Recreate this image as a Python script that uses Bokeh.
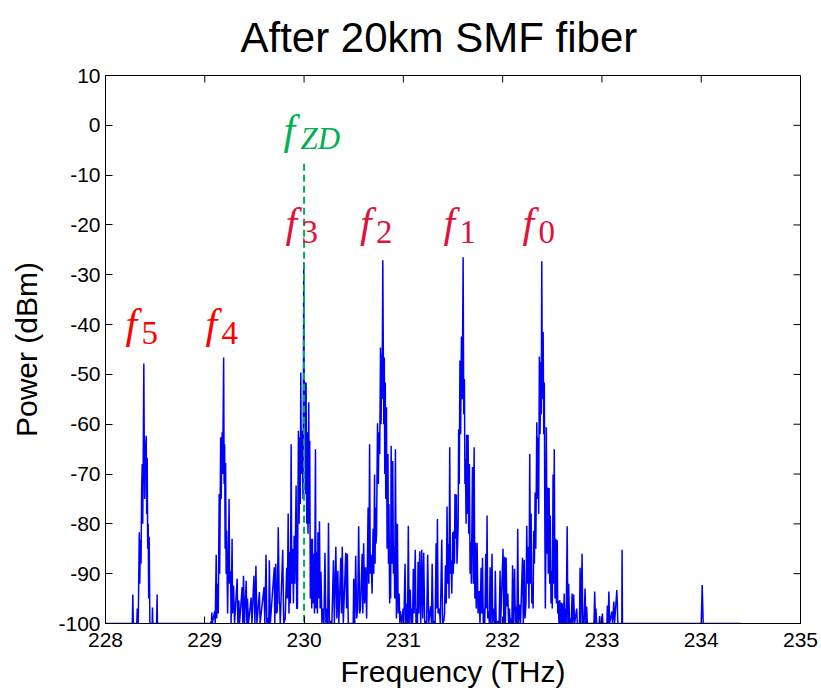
from bokeh.plotting import figure
from bokeh.models import Range1d, FixedTicker, ColumnDataSource
from bokeh.embed import file_html
from bokeh.resources import INLINE
from bokeh.core.properties import value

# ---------------- data ----------------
freq = [
    228.0, 228.27, 228.275, 228.28, 228.315, 228.32, 228.33, 228.34, 228.345, 228.352,
    228.358, 228.364, 228.37, 228.375, 228.38, 228.386, 228.39, 228.395, 228.40, 228.41,
    228.415, 228.42, 228.425, 228.43, 228.435, 228.44, 228.447, 228.47, 228.473, 228.476,
    228.515, 228.52, 228.523,
    229.0, 229.06, 229.064, 229.068, 229.07, 229.075, 229.10, 229.105, 229.115, 229.12,
    229.13, 229.136, 229.145, 229.15, 229.16, 229.165, 229.175, 229.18, 229.19, 229.195,
    229.20, 229.205, 229.21, 229.215, 229.22, 229.23, 229.245, 229.25, 229.26, 229.265,
    229.275, 229.28, 229.29, 229.30, 229.326, 229.333, 229.343, 229.35, 229.376, 229.383,
    229.39, 229.40, 229.417, 229.424, 229.43, 229.44, 229.467, 229.475, 229.495, 229.505,
    229.515, 229.525, 229.55, 229.557, 229.597, 229.605, 229.617, 229.625, 229.64, 229.645,
    229.65, 229.66, 229.70, 229.705, 229.715, 229.722, 229.73, 229.74, 229.75, 229.755,
    229.76, 229.785, 229.795, 229.81, 229.825, 229.832, 229.84, 229.848, 229.856, 229.862,
    229.87, 229.876, 229.886, 229.893, 229.90, 229.907, 229.92, 229.926, 229.933, 229.943,
    229.95, 229.956, 229.962, 229.967, 229.972, 229.98, 229.99, 229.997, 230.003, 230.008,
    230.014, 230.02, 230.027, 230.033, 230.04, 230.047, 230.052, 230.057, 230.063, 230.07,
    230.077, 230.084, 230.09, 230.098, 230.105, 230.115, 230.12, 230.128, 230.134, 230.14,
    230.147, 230.155, 230.162, 230.17, 230.18, 230.19, 230.20, 230.21, 230.22, 230.23,
    230.238, 230.246, 230.255, 230.266, 230.28, 230.296, 230.305, 230.32, 230.33, 230.34,
    230.35, 230.37, 230.377, 230.385, 230.395, 230.42, 230.428, 230.436, 230.445, 230.495,
    230.50, 230.51, 230.52, 230.53, 230.54, 230.55, 230.56, 230.568, 230.585, 230.592,
    230.60, 230.61, 230.62, 230.63, 230.645, 230.652, 230.66, 230.667, 230.675, 230.685,
    230.695, 230.702, 230.71, 230.715, 230.72, 230.725, 230.73, 230.735, 230.74, 230.748,
    230.755, 230.762, 230.77, 230.776, 230.78, 230.786, 230.793, 230.798, 230.803, 230.808,
    230.813, 230.818, 230.823, 230.83, 230.836, 230.845, 230.85, 230.855, 230.862, 230.868,
    230.872, 230.877, 230.885, 230.893, 230.90, 230.907, 230.913, 230.92, 230.93, 230.94,
    230.948, 230.957, 230.965, 230.97, 230.985, 230.997, 231.005, 231.017, 231.025, 231.034,
    231.042, 231.05, 231.058, 231.07, 231.078, 231.085, 231.093, 231.10, 231.108, 231.12,
    231.127, 231.135, 231.142, 231.148, 231.156, 231.165, 231.175, 231.185, 231.195, 231.205,
    231.215, 231.225, 231.235, 231.245, 231.255, 231.275, 231.283, 231.29, 231.30, 231.31,
    231.32, 231.33, 231.337, 231.343, 231.35, 231.363, 231.372, 231.387, 231.395, 231.407,
    231.415, 231.424, 231.432, 231.44, 231.447, 231.454, 231.46, 231.467, 231.474, 231.48,
    231.488, 231.497, 231.503, 231.51, 231.515, 231.52, 231.527, 231.534, 231.54, 231.547,
    231.552, 231.557, 231.563, 231.57, 231.577, 231.585, 231.593, 231.602, 231.608, 231.615,
    231.62, 231.625, 231.632, 231.638, 231.645, 231.652, 231.658, 231.665, 231.672, 231.678,
    231.685, 231.696, 231.705, 231.713, 231.72, 231.726, 231.734, 231.743, 231.752, 231.763,
    231.772, 231.783, 231.79, 231.797, 231.805, 231.813, 231.82, 231.83, 231.837, 231.843,
    231.85, 231.86, 231.866, 231.874, 231.882, 231.893, 231.90, 231.913, 231.92, 231.926,
    231.935, 231.957, 231.965, 231.974, 231.98, 232.004, 232.012, 232.02, 232.028, 232.035,
    232.042, 232.052, 232.06, 232.068, 232.076, 232.086, 232.093, 232.10, 232.108, 232.12,
    232.128, 232.136, 232.144, 232.152, 232.16, 232.17, 232.18, 232.20, 232.208, 232.217,
    232.225, 232.235, 232.243, 232.25, 232.257, 232.265, 232.273, 232.28, 232.287, 232.294,
    232.30, 232.307, 232.313, 232.32, 232.327, 232.334, 232.344, 232.35, 232.357, 232.363,
    232.37, 232.377, 232.384, 232.389, 232.394, 232.40, 232.408, 232.414, 232.42, 232.425,
    232.43, 232.435, 232.44, 232.447, 232.454, 232.46, 232.468, 232.474, 232.48, 232.487,
    232.494, 232.50, 232.508, 232.514, 232.52, 232.527, 232.535, 232.542, 232.55, 232.555,
    232.56, 232.567, 232.575, 232.582, 232.59, 232.597, 232.605, 232.612, 232.62, 232.625,
    232.63, 232.64, 232.65, 232.657, 232.665, 232.673, 232.683, 232.69, 232.70, 232.707,
    232.715, 232.725, 232.746, 232.752, 232.774, 232.78, 232.788, 232.80, 232.807, 232.813,
    232.82, 232.83, 232.838, 232.846, 232.853, 232.92, 232.927, 232.935, 232.94, 232.947,
    232.972, 232.977, 232.983, 233.0, 233.005, 233.01, 233.05, 233.055, 233.062, 233.07,
    233.077, 233.10, 233.107, 233.12, 233.127, 233.15, 233.155, 233.16, 233.20, 233.203,
    233.207, 234.0, 234.01, 234.02, 234.4,
]
power = [
    -100, -100, -94.2, -100, -100, -97, -100, -81.7, -92, -83.2,
    -88, -73, -68, -80, -67, -47.8, -62.3, -75, -66, -62.3,
    -78, -66.8, -85, -80, -95, -82.6, -100, -100, -96.8, -100,
    -100, -94.2, -100,
    -100, -100, -99.5, -100, -97.8, -100, -97.5, -100, -86.2, -99,
    -92, -98, -74, -90, -62.6, -75, -61.6, -70, -46.6, -72,
    -64, -85, -67.8, -90, -81.4, -98, -75, -92, -89.4, -100,
    -83, -98, -92.4, -100, -91, -100, -95.4, -100, -92.7, -100,
    -90.4, -100, -91.4, -100, -95, -100, -94.8, -100, -90.4, -100,
    -88.4, -100, -93.7, -100, -92.7, -100, -86.2, -100, -98.9, -100,
    -87.3, -100, -88.7, -100, -88, -98, -97.5, -80.7, -96, -96,
    -100, -85.2, -100, -99, -88.8, -95, -77.9, -98, -85.6, -96,
    -64, -92, -85, -96, -82.4, -92, -72.3, -97, -97, -61.3,
    -80, -62.6, -76, -49.6, -70, -61.3, -75, -27.5, -60, -51.6,
    -74, -51.6, -80, -61.6, -82, -55.6, -80, -63.3, -95, -83,
    -97, -83, -96, -86, -98, -65, -97, -85.6, -98, -81.7,
    -95, -79.5, -97, -89.6, -100, -97, -100, -85.8, -100, -97,
    -100, -79.8, -100, -99.5, -100, -87.3, -100, -84.6, -99, -89.4,
    -100, -86.8, -98, -84.6, -100, -85.8, -97, -86, -100, -100,
    -91, -100, -86.4, -99, -97, -80.5, -98, -97, -86, -98,
    -83.9, -96, -88.7, -99, -76.7, -92, -64, -90, -86.2, -94,
    -81, -90, -70.1, -88, -76.7, -84, -82, -70, -59.8, -72,
    -61.6, -66, -44.6, -60, -46, -55, -27.1, -45, -60, -46.6,
    -70, -51.6, -75, -56.6, -85, -66, -88, -76, -96, -86,
    -95, -64.3, -88, -67.4, -90, -84.6, -95, -65, -99, -80,
    -98, -94, -100, -97.5, -100, -97, -100, -88, -100, -96,
    -100, -80.4, -100, -93.2, -100, -97, -100, -89, -98, -85.2,
    -100, -97, -100, -87.6, -98, -85.5, -100, -85.2, -99, -85.8,
    -100, -99.5, -100, -86.2, -100, -96.5, -100, -88, -100, -99.5,
    -100, -83.9, -97, -79, -98, -97, -100, -83.2, -100, -99.5,
    -98, -88.3, -96, -76.5, -92, -84, -95, -64.6, -90, -87.3,
    -94, -81.7, -90, -81.4, -88, -74, -83, -74.1, -88, -83.9,
    -80, -61, -72, -47.2, -62, -42.4, -55, -26.5, -58, -50.9,
    -72, -67, -80, -62.1, -78, -62.1, -82, -68, -90, -83.6,
    -92, -68.6, -92, -64.6, -95, -83.8, -97, -83.8, -98, -93.5,
    -100, -88.8, -98, -86.8, -100, -97, -100, -86, -97, -78.3,
    -99, -97.5, -100, -88.7, -100, -86, -100, -97, -100, -89.4,
    -100, -99.5, -100, -89.4, -100, -85, -100, -86.6, -100, -86.8,
    -96.6, -94, -100, -97, -100, -99, -100, -88.3, -100, -89,
    -100, -96.6, -100, -81, -100, -96.2, -100, -86.8, -100, -87.2,
    -99, -96, -80.4, -92, -84.6, -97, -66, -92, -77.9, -96,
    -92.3, -97, -81.4, -88, -73.7, -85, -59.6, -75, -62.6, -78,
    -46.4, -62, -47.5, -58, -27.3, -55, -41.5, -62, -51.6, -80,
    -97, -85, -60.6, -86, -72.7, -90, -72.8, -92, -78.3, -96,
    -89.4, -97, -70.1, -92, -65, -95, -83, -96, -83.3, -98,
    -95.5, -100, -95.3, -100, -95.8, -100, -96, -100, -94, -100,
    -97, -100, -80.5, -100, -92, -100, -99, -100, -94, -100,
    -94.2, -100, -97, -100, -100, -88.8, -100, -86, -100, -98.5,
    -100, -93, -100, -96.6, -100, -100, -93.6, -100, -97, -100,
    -100, -98.5, -100, -100, -98, -100, -100, -96.4, -100, -93.6,
    -100, -97.6, -100, -95.6, -100, -93.3, -96, -100, -100, -85.2,
    -100, -100, -92.3, -100, -100,
]

x_ticks = [228, 229, 230, 231, 232, 233, 234, 235]
x_tick_labels = ["228", "229", "230", "231", "232", "233", "234", "235"]
y_ticks = [10, 0, -10, -20, -30, -40, -50, -60, -70, -80, -90, -100]
y_tick_labels = ["10", "0", "-10", "-20", "-30", "-40", "-50", "-60", "-70", "-80", "-90", "-100"]

zd_freq = 230.0          # zero-dispersion frequency marker
zd_top = -7.7

title_text = "After 20km SMF fiber"
xlabel_text = "Frequency (THz)"
ylabel_text = "Power (dBm)"

# annotation texts
lab_main = ["f", "f", "f", "f", "f", "f"]
lab_sub = ["5", "4", "3", "2", "1", "0"]
lab_x = [228.201, 229.007, 229.813, 230.563, 231.404, 232.199]
lab_y = [-39.8, -39.8, -19.6, -19.6, -19.6, -19.6]
lab_color = ["#FF0000", "#FF0000", "#DC143C", "#DC143C", "#DC143C", "#DC143C"]
zd_label_x = 229.793
zd_label_y = -0.9

X_MIN, X_MAX, Y_MIN, Y_MAX = 228, 235, -100, 10

# ---------------- figure ----------------
p = figure(width=821, height=691, output_backend="svg", toolbar_location=None,
           x_range=Range1d(X_MIN, X_MAX), y_range=Range1d(Y_MIN, Y_MAX),
           min_border_left=105, min_border_right=21, min_border_top=75, min_border_bottom=68,
           title=title_text)
p.title.align = "left"
p.title.offset = 135
p.title.vertical_align = "top"
p.title.text_font = "Liberation Sans"
p.title.text_font_size = "42px"
p.title.text_font_style = "normal"
p.title.text_color = "black"
p.title.standoff = 25

p.grid.visible = False
p.outline_line_color = "black"
p.outline_line_width = 1
p.background_fill_color = "white"
p.border_fill_color = "white"

def style_axis(ax, ticks, labels):
    ax.ticker = FixedTicker(ticks=ticks)
    ax.major_label_overrides = {t: l for t, l in zip(ticks, labels)}
    ax.major_tick_in = 7
    ax.major_tick_out = 0
    ax.minor_tick_line_color = None
    ax.axis_line_color = "black"
    ax.major_tick_line_color = "black"
    ax.major_label_text_font = "Liberation Sans"
    ax.major_label_text_color = "black"
    ax.major_label_text_font_size = "21px"
    ax.axis_label_text_font = "Liberation Sans"
    ax.axis_label_text_font_size = "30px"
    ax.axis_label_text_font_style = "normal"
    ax.axis_label_text_color = "black"

style_axis(p.xaxis[0], x_ticks, x_tick_labels)
style_axis(p.yaxis[0], y_ticks, y_tick_labels)
p.xaxis[0].major_label_standoff = 9
p.yaxis[0].major_label_standoff = 5
p.xaxis[0].axis_label = xlabel_text
p.yaxis[0].axis_label = ylabel_text
p.xaxis[0].axis_label_standoff = 5
p.yaxis[0].axis_label_standoff = 12

# inward ticks on the top and right edges of the box (MATLAB "box on")
tick_len_x = 7 / 99.3          # 7 px expressed in THz
tick_len_y = 7 / 4.98          # 7 px expressed in dB
p.segment(x0=x_ticks, y0=[Y_MAX] * len(x_ticks), x1=x_ticks,
          y1=[Y_MAX - tick_len_y] * len(x_ticks), line_color="black", line_width=1)
p.segment(x0=[X_MAX] * len(y_ticks), y0=y_ticks, x1=[X_MAX - tick_len_x] * len(y_ticks),
          y1=y_ticks, line_color="black", line_width=1)

src = ColumnDataSource(data=dict(freq=freq, power=power))
p.line("freq", "power", source=src, line_color="#0000FF", line_width=1.5)

p.segment(x0=[zd_freq], y0=[zd_top], x1=[zd_freq], y1=[Y_MIN],
          line_color="#00B050", line_width=2, line_dash="7 4")

lsrc = ColumnDataSource(data=dict(x=lab_x, y=lab_y, main=lab_main, sub=lab_sub, color=lab_color))
p.text(x="x", y="y", text="main", source=lsrc, text_color="color",
       text_font=value("Liberation Serif"), text_font_style="italic",
       text_font_size="42px", text_baseline="alphabetic", text_align="left")
p.text(x="x", y="y", text="sub", source=lsrc, text_color="color",
       text_font=value("Liberation Serif"), text_font_size="33px",
       text_baseline="alphabetic", text_align="left", x_offset=16, y_offset=9)

p.text(x=[zd_label_x], y=[zd_label_y], text=["f"], text_color="#00B050",
       text_font=value("Liberation Serif"), text_font_style="italic",
       text_font_size="42px", text_baseline="alphabetic", text_align="left")
p.text(x=[zd_label_x], y=[zd_label_y], text=["ZD"], text_color="#00B050",
       text_font=value("Liberation Serif"), text_font_style="italic",
       text_font_size="31px", text_baseline="alphabetic", text_align="left",
       x_offset=17, y_offset=9)

open("out.html", "w").write(file_html(p, INLINE))
